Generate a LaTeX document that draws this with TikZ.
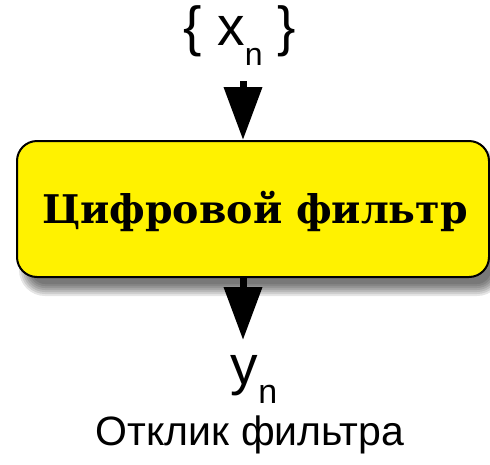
\documentclass[tikz,border=0pt]{standalone}
\usepackage{fontspec}
\setmainfont{Liberation Sans}
\newfontfamily\boxfont{DejaVu Serif}
\usetikzlibrary{arrows.meta}
\tikzset{
  filterbox/.style={draw=black, line width=2pt, fill=yellow, rounded corners=20pt,
    minimum width=472pt, minimum height=136pt, inner sep=0pt},
  shadowlayer/.style={fill=black, fill opacity=0.1, draw=none},
  bigarrow/.style={line width=7pt, -{Triangle[length=53pt,width=37pt]}},
  lbl/.style={inner sep=0pt, anchor=base}
}
\begin{document}
\begin{tikzpicture}[x=1pt,y=-1pt]
\useasboundingbox (0,0) rectangle (490,464);
\foreach \e in {-6,-4,-2,0,2,4,6}{
  \pgfmathsetmacro{\r}{max(20+\e,4)}
  \fill[shadowlayer, rounded corners=\r pt] (25-\e,154-\e) rectangle (497+\e,290+\e);
}
\node[filterbox] (box) at (253,209) {};
\node[lbl] (boxtext) at (255,223) {\boxfont\bfseries\fontsize{39.5}{39.5}\selectfont Цифровой фильтр};
\node[lbl] (xin) at (240,45) {\fontsize{55}{55}\selectfont\{ x\raisebox{-20pt}{\fontsize{32}{32}\selectfont n} \}};
\coordinate (inp) at (243,81);
\coordinate (outp) at (243,340);
\draw[bigarrow] (inp) -- (box.north -| inp);
\draw[bigarrow] (box.south -| outp) -- (outp);
\node[lbl] (yout) at (254,384) {\fontsize{55}{55}\selectfont y\raisebox{-19pt}{\fontsize{34}{34}\selectfont n}};
\node[lbl] (resp) at (250,445) {\fontsize{41}{41}\selectfont Отклик фильтра};
\end{tikzpicture}
\end{document}
